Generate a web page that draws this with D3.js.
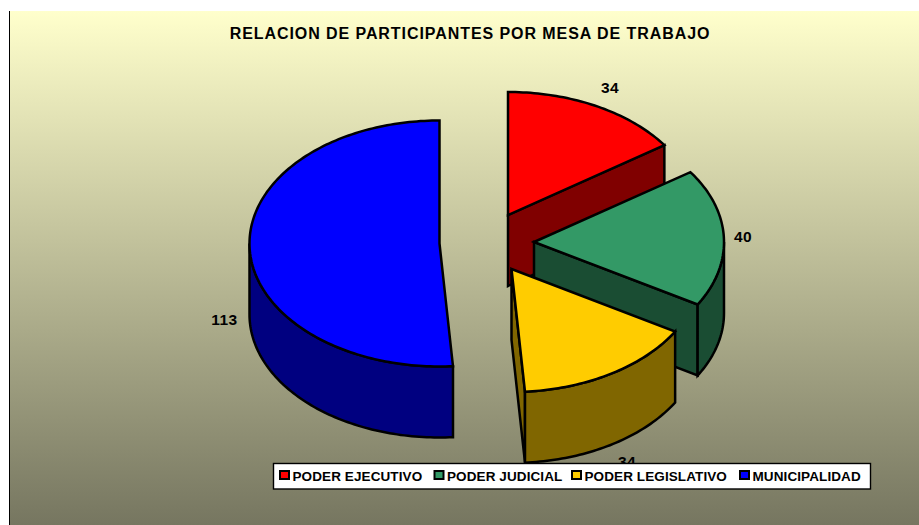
<!DOCTYPE html>
<html><head><meta charset="utf-8">
<script src="https://cdn.jsdelivr.net/npm/d3@7"></script>
<style>html,body{margin:0;padding:0;background:#fff}svg{display:block}text{font-family:"Liberation Sans",Arial,sans-serif;font-weight:bold;fill:#000}</style>
</head><body><svg id="c" width="919" height="525"></svg>
<script>
const categories = ["PODER EJECUTIVO","PODER JUDICIAL","PODER LEGISLATIVO","MUNICIPALIDAD"];
const values = [34,40,34,113];
const title = "RELACION DE PARTICIPANTES POR MESA DE TRABAJO";
const topColors = ["#FF0000","#339966","#FFCC00","#0000FF"];
const sideColors = ["#800000","#1A4D33","#806600","#000080"];

// layout
const rx = 190, ry = 123, depth = 71;
const centers = [[508,215],[534,242],[511.5,269],[439.5,243.5]];
const labelAt = [[610,87],[743,236],[627,461],[224.5,319]];
const legendKeyX = [279,433.5,571,739];

const svg = d3.select("#c");
const defs = svg.append("defs");
const g = defs.append("linearGradient").attr("id","bg").attr("x1",0).attr("y1",0).attr("x2",0).attr("y2",1);
g.append("stop").attr("offset",0).attr("stop-color","#FFFFCC");
g.append("stop").attr("offset",1).attr("stop-color","#767660");
svg.append("rect").attr("x",10).attr("y",11).attr("width",909).attr("height",514).attr("fill","url(#bg)");
svg.append("line").attr("x1",9.5).attr("x2",9.5).attr("y1",11).attr("y2",525).attr("stroke","#000").attr("stroke-width",1);

svg.append("text").attr("x",470).attr("y",38.5).attr("text-anchor","middle")
  .attr("font-size",16).attr("letter-spacing",0.93).text(title);

const arcs = d3.pie().sort(null).value(d=>d)(values);
const line = d3.line();
const pt = (c,a,dz=0)=>[c[0]+rx*Math.sin(a), c[1]-ry*Math.cos(a)+dz];
const arcPts = (c,a0,a1,dz=0)=>{
  const n = Math.max(2,Math.ceil((a1-a0)/0.02));
  return d3.range(n+1).map(i=>pt(c,a0+(a1-a0)*i/n,dz));
};
function face(pts,fill){
  svg.append("path").attr("d",line(pts)+"Z").attr("fill",fill)
    .attr("stroke","#000").attr("stroke-width",2.5)
    .attr("stroke-linejoin","miter").attr("stroke-miterlimit",3);
}
arcs.forEach((d,i)=>{
  const c = centers[i], a0=d.startAngle, a1=d.endAngle, dark=sideColors[i];
  // cut wall at the end angle, visible when it faces the viewer
  if (a1 <= Math.PI) {
    face([c,pt(c,a1),pt(c,a1,depth),[c[0],c[1]+depth]],dark);
  }
  // outer curved wall for the front half
  const f0 = Math.max(a0,Math.PI/2), f1 = Math.min(a1,Math.PI*1.5);
  if (f1>f0) face([...arcPts(c,f0,f1),...arcPts(c,f0,f1,depth).reverse()],dark);
  // top
  face([c,...arcPts(c,a0,a1)],topColors[i]);
});

values.forEach((v,i)=>{
  svg.append("text").attr("x",labelAt[i][0]).attr("y",labelAt[i][1]+5.5)
    .attr("text-anchor","middle").attr("font-size",15.5).attr("letter-spacing",0.5).text(v);
});

// legend
const lg = svg.append("g");
lg.append("rect").attr("x",273.5).attr("y",463.5).attr("width",597).attr("height",25.5)
  .attr("fill","#fff").attr("stroke","#000").attr("stroke-width",1.4);
categories.forEach((name,i)=>{
  const x = legendKeyX[i];
  lg.append("rect").attr("x",x+1).attr("y",471).attr("width",9).attr("height",8)
    .attr("fill",topColors[i]).attr("stroke","#000").attr("stroke-width",2);
  lg.append("text").attr("x",x+13.5).attr("y",480.5).attr("font-size",13.5).attr("letter-spacing",0.1).text(name);
});
</script></body></html>
